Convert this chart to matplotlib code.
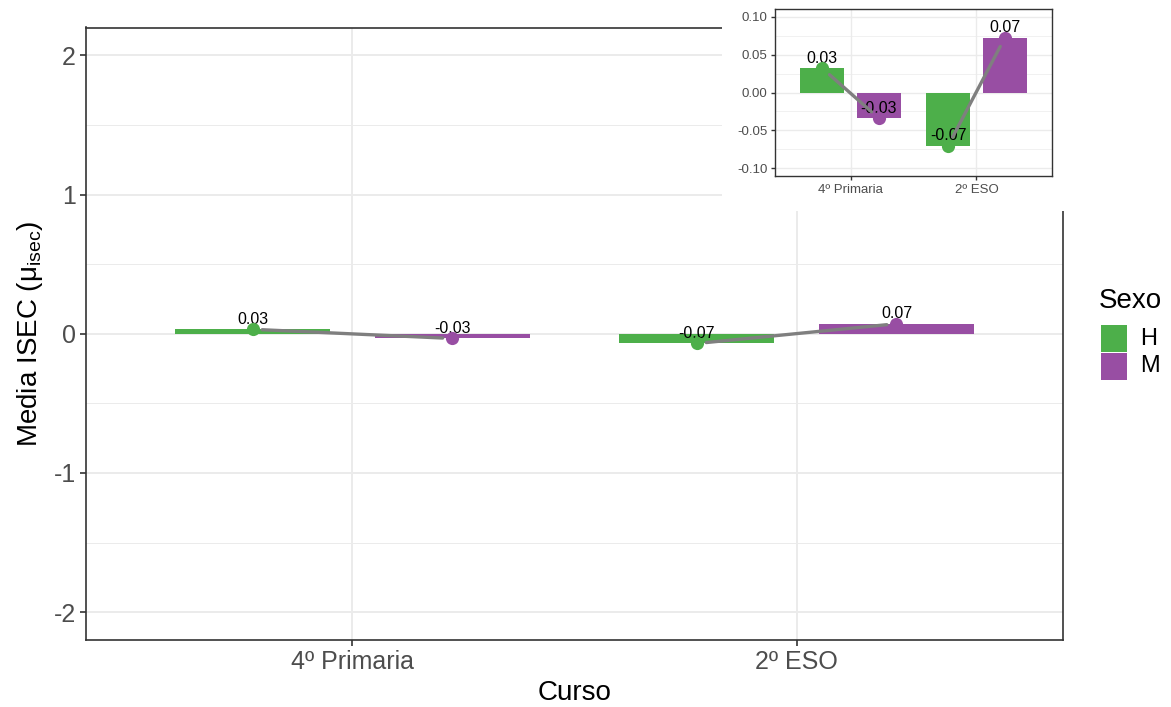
import numpy as np
import matplotlib.pyplot as plt
from matplotlib.patches import Rectangle

plt.rcParams['font.family'] = ['Liberation Sans', 'DejaVu Sans']
plt.rcParams['mathtext.fontset'] = 'custom'
plt.rcParams['mathtext.rm'] = 'Liberation Sans'
plt.rcParams['mathtext.it'] = 'Liberation Sans:italic'

# Medias de ISEC por curso y sexo
cursos = ['4º Primaria', '2º ESO']
sexos = ['H', 'M']
media_h = [0.032, -0.070]
media_m = [-0.034, 0.072]
colores = ['#4DAF4A', '#984EA3']

GRIS_TXT = '#4D4D4D'
GRIS_BORDE = '#333333'
GRIS_GRID = '#EBEBEB'
GRIS_LINEA = '#7F7F7F'

W, H = 1171, 707


def px(x0, y0, x1, y1):
    # caja en pixeles (origen arriba-izquierda) -> coordenadas de figura
    return [x0 / W, 1 - y1 / H, (x1 - x0) / W, (y1 - y0) / H]


def panel(ax, yticks, ymin_ticks, lim, fs_ticks, tick_len, pad, lw_borde, lw_grid):
    x = np.arange(1, len(cursos) + 1)
    medias = [media_h, media_m]
    desp = [-0.225, 0.225]

    for k, sexo in enumerate(sexos):
        xs = x + desp[k]
        ax.bar(xs, medias[k], width=0.35, color=colores[k], zorder=2, label=sexo)
        for xi, yi in zip(xs, medias[k]):
            ax.annotate(f'{yi:.2f}', (xi, yi), xytext=(0, 4), textcoords='offset points',
                        ha='center', va='baseline', fontsize=11.5, color='black', zorder=3)
        ax.scatter(xs, medias[k], s=90, color=colores[k], zorder=4, linewidths=0)

    # linea entre H y M dentro de cada curso, con hueco alrededor de los puntos
    for i in range(len(cursos)):
        ax.annotate('', xy=(x[i] + desp[1], media_m[i]), xytext=(x[i] + desp[0], media_h[i]),
                    arrowprops=dict(arrowstyle='-', color=GRIS_LINEA, lw=2.4,
                                    shrinkA=7, shrinkB=7),
                    zorder=5)

    ax.set_xlim(0.4, 2.6)
    ax.set_ylim(-lim, lim)
    ax.set_xticks(x)
    ax.set_xticklabels(cursos)
    ax.set_yticks(yticks)
    ax.set_yticks(ymin_ticks, minor=True)
    ax.grid(True, which='major', color=GRIS_GRID, lw=lw_grid)
    ax.grid(True, which='minor', axis='y', color=GRIS_GRID, lw=lw_grid * 0.5)
    ax.set_axisbelow(True)
    ax.tick_params(which='major', length=tick_len, width=lw_borde, color=GRIS_BORDE,
                   labelsize=fs_ticks, labelcolor=GRIS_TXT, pad=pad)
    ax.tick_params(which='minor', length=0)
    for s in ax.spines.values():
        s.set_color(GRIS_BORDE)
        s.set_linewidth(lw_borde)


fig = plt.figure(figsize=(W / 100, H / 100), dpi=100)

# panel principal
ax = fig.add_axes(px(86, 27.5, 1063, 640))
panel(ax, [-2, -1, 0, 1, 2], [-1.5, -0.5, 0.5, 1.5], 2.2, 18, 4.3, 3, 1.2, 1.4)
ax.set_yticklabels(['-2', '-1', '0', '1', '2'])
ax.set_xlabel('Curso', fontsize=20, labelpad=4.5)
ax.set_ylabel('Media ISEC (μ$_{\\mathrm{isec}}$)', fontsize=20, labelpad=6.5)

# leyenda
fig.text(1099 / W, 1 - 308.5 / H, 'Sexo', fontsize=20, ha='left', va='baseline')
for k, (sexo, c) in enumerate(zip(sexos, colores)):
    y0 = 325 + 27.5 * k
    fig.add_artist(Rectangle((1100.5 / W, 1 - (y0 + 27) / H), 26.5 / W, 27 / H,
                             transform=fig.transFigure, facecolor=c, edgecolor='none'))
    fig.text(1140 / W, 1 - (y0 + 13.5) / H, sexo, fontsize=17, ha='left', va='center')

# recuadro blanco y grafico insertado
fondo = fig.add_axes(px(722, 0, 1065, 211))
fondo.set_facecolor('white')
fondo.set_xticks([])
fondo.set_yticks([])
for s in fondo.spines.values():
    s.set_visible(False)

axi = fig.add_axes(px(775, 9, 1052, 176))
panel(axi, [-0.10, -0.05, 0.0, 0.05, 0.10], [-0.075, -0.025, 0.025, 0.075], 0.11,
      9.5, 3, 2.5, 1.0, 1.0)
axi.set_yticklabels(['-0.10', '-0.05', '0.00', '0.05', '0.10'])

fig.savefig('out.png', dpi=100)
